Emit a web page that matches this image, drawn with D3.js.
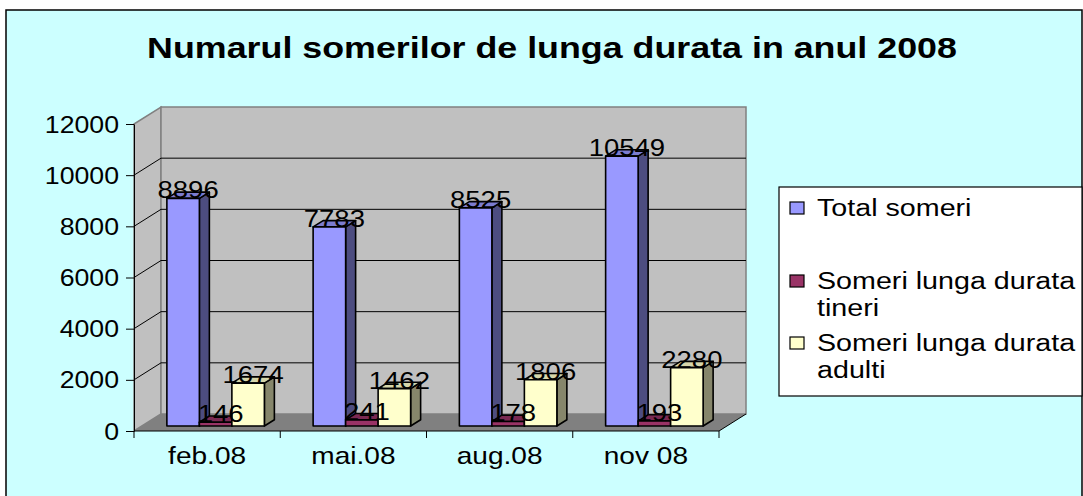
<!DOCTYPE html>
<html>
<head>
<meta charset="utf-8">
<script src="https://cdn.jsdelivr.net/npm/d3@7"></script>
<style>
  body { margin: 0; background: #ffffff; }
  svg text { font-family: "Liberation Sans", Arial, sans-serif; fill: #000; }
</style>
</head>
<body>
<div id="chart"></div>
<script>
// data
var categories = ['feb.08', 'mai.08', 'aug.08', 'nov 08'];
var seriesNames = ['Total someri', 'Someri lunga durata tineri', 'Someri lunga durata adulti'];
var totalSomeri = [8896, 7783, 8525, 10549];
var tineri = [146, 241, 178, 193];
var adulti = [1674, 1462, 1806, 2280];
var yTicks = [0, 2000, 4000, 6000, 8000, 10000, 12000];
var chartTitle = 'Numarul somerilor de lunga durata in anul 2008';

var values = [totalSomeri, tineri, adulti];
var colors = [
    { front: '#9999ff', top: '#7c7cd0', side: '#4d4d80' },
    { front: '#993366', top: '#7a2952', side: '#4d1a33' },
    { front: '#ffffcc', top: '#d6d6aa', side: '#86866b' }
];

var W = 1083, H = 496;
var sx = 1.17;   // the original picture is stretched horizontally

// geometry of the 3d box
var front = { left: 134, right: 719, bottom: 431, top: 124 };
var depth = { dx: 27, dy: -17 };
var barFront = { dx: 8.5, dy: -5 };
var barDepth = { dx: 10, dy: -6.3 };

const svg = d3.select('#chart').append('svg')
    .attr('width', W)
    .attr('height', H);

svg.append('rect')
    .attr('x', 6).attr('y', 10)
    .attr('width', 1076).attr('height', 500)
    .attr('fill', '#ccffff')
    .attr('stroke', '#000')
    .attr('stroke-width', 1.5);

svg.append('text')
    .attr('transform', `translate(552,58) scale(1.235,1)`)
    .attr('text-anchor', 'middle')
    .style('font-size', '29px')
    .style('font-weight', 'bold')
    .text(chartTitle);

// scales
var y = d3.scaleLinear().domain([0, 12000]).range([front.bottom, front.top]);
var x = d3.scaleBand().domain(categories).range([front.left, front.right]).padding(0);
var gap = x.bandwidth() / 3 * 0.5;
var xs = d3.scaleBand().domain(d3.range(3)).range([gap, x.bandwidth() - gap]).padding(0);

function pts(a) { return a.map(p => p.join(',')).join(' '); }

// walls
var g = svg.append('g');
// side wall
g.append('polygon')
    .attr('points', pts([[front.left, front.bottom], [front.left, front.top],
        [front.left + depth.dx, front.top + depth.dy], [front.left + depth.dx, front.bottom + depth.dy]]))
    .attr('fill', '#c0c0c0').attr('stroke', '#808080').attr('stroke-width', 1.5);
// back wall
g.append('rect')
    .attr('x', front.left + depth.dx)
    .attr('y', front.top + depth.dy)
    .attr('width', front.right - front.left)
    .attr('height', front.bottom - front.top)
    .attr('fill', '#c0c0c0').attr('stroke', '#808080').attr('stroke-width', 1.5);
// floor
g.append('polygon')
    .attr('points', pts([[front.left, front.bottom], [front.right, front.bottom],
        [front.right + depth.dx, front.bottom + depth.dy], [front.left + depth.dx, front.bottom + depth.dy]]))
    .attr('fill', '#808080');

// gridlines
var grid = yTicks.filter(d => d > 0 && d < 12000);
g.selectAll('.gback').data(grid).join('line')
    .attr('x1', front.left + depth.dx).attr('x2', front.right + depth.dx)
    .attr('y1', d => y(d) + depth.dy).attr('y2', d => y(d) + depth.dy)
    .attr('stroke', '#000').attr('stroke-width', 1);
g.selectAll('.gside').data(grid).join('line')
    .attr('x1', front.left).attr('x2', front.left + depth.dx)
    .attr('y1', d => y(d)).attr('y2', d => y(d) + depth.dy)
    .attr('stroke', '#000').attr('stroke-width', 1);

// floor edges
g.append('line')
    .attr('x1', front.right).attr('y1', front.bottom)
    .attr('x2', front.right + depth.dx).attr('y2', front.bottom + depth.dy)
    .attr('stroke', '#000').attr('stroke-width', 1);

// y axis
var yAxis = svg.append('g')
    .attr('transform', `translate(${front.left},0)`)
    .call(d3.axisLeft(y).tickValues(yTicks).tickSize(8).tickSizeOuter(0).tickFormat(d3.format('d')));
yAxis.select('.domain').attr('stroke', '#000');
yAxis.selectAll('.tick line').attr('stroke', '#000');
yAxis.selectAll('.tick text')
    .attr('x', -15 / 1.16)
    .attr('dy', '0.35em')
    .attr('transform', 'scale(1.16,1)')
    .style('font-size', '23px')
    .style('font-family', '"Liberation Sans", Arial, sans-serif');

// x axis
svg.append('line')
    .attr('x1', front.left).attr('x2', front.right)
    .attr('y1', front.bottom).attr('y2', front.bottom)
    .attr('stroke', '#000');
var bounds = categories.map(c => x(c)).concat([front.right]);
svg.selectAll('.xtick').data(bounds).join('line')
    .attr('x1', d => d).attr('x2', d => d)
    .attr('y1', front.bottom).attr('y2', front.bottom + 7)
    .attr('stroke', '#000');
svg.selectAll('.xlab').data(categories).join('text')
    .attr('transform', d => `translate(${x(d) + x.bandwidth() / 2},464) scale(${sx},1)`)
    .attr('text-anchor', 'middle')
    .style('font-size', '24px')
    .text(d => d);

// bars
var bars = [];
categories.forEach((c, i) => {
    values.forEach((s, j) => {
        var x0 = x(c) + xs(j) + barFront.dx;
        var w = xs.bandwidth();
        var yb = y(0) + barFront.dy;
        var yt = y(s[i]) + barFront.dy;
        bars.push({ x0, w, yb, yt, v: s[i], j });
    });
});

var bg = svg.append('g')
    .attr('stroke', '#000')
    .attr('stroke-width', 1.6)
    .attr('stroke-linejoin', 'round');
bars.forEach(b => {
    var c = colors[b.j];
    bg.append('polygon')
        .attr('points', pts([[b.x0 + b.w, b.yt], [b.x0 + b.w + barDepth.dx, b.yt + barDepth.dy],
            [b.x0 + b.w + barDepth.dx, b.yb + barDepth.dy], [b.x0 + b.w, b.yb]]))
        .attr('fill', c.side);
    bg.append('polygon')
        .attr('points', pts([[b.x0, b.yt], [b.x0 + barDepth.dx, b.yt + barDepth.dy],
            [b.x0 + b.w + barDepth.dx, b.yt + barDepth.dy], [b.x0 + b.w, b.yt]]))
        .attr('fill', c.top);
    bg.append('rect')
        .attr('x', b.x0).attr('y', b.yt)
        .attr('width', b.w).attr('height', b.yb - b.yt)
        .attr('fill', c.front);
});

// data labels
svg.selectAll('.dlab').data(bars).join('text')
    .attr('transform', d => `translate(${d.x0 + d.w / 2 + barDepth.dx / 2},${d.yt}) scale(${sx},1)`)
    .attr('text-anchor', 'middle')
    .style('font-size', '23.5px')
    .text(d => d.v);

// legend
var lg = svg.append('g');
lg.append('rect')
    .attr('x', 779).attr('y', 187)
    .attr('width', 303).attr('height', 209)
    .attr('fill', '#fff').attr('stroke', '#000').attr('stroke-width', 1.2);

var legendLines = [['Total someri'], ['Someri lunga durata', 'tineri'], ['Someri lunga durata', 'adulti']];
var legendY = [216, 289, 351];
legendLines.forEach((lines, i) => {
    lg.append('rect')
        .attr('x', 790).attr('y', legendY[i] - 14)
        .attr('width', 14).attr('height', 12)
        .attr('fill', colors[i].front)
        .attr('stroke', '#000').attr('stroke-width', 1.2);
    lines.forEach((t, k) => {
        lg.append('text')
            .attr('transform', `translate(817,${legendY[i] + k * 27}) scale(${sx},1)`)
            .style('font-size', '24.5px')
            .text(t);
    });
});
</script>
</body>
</html>
